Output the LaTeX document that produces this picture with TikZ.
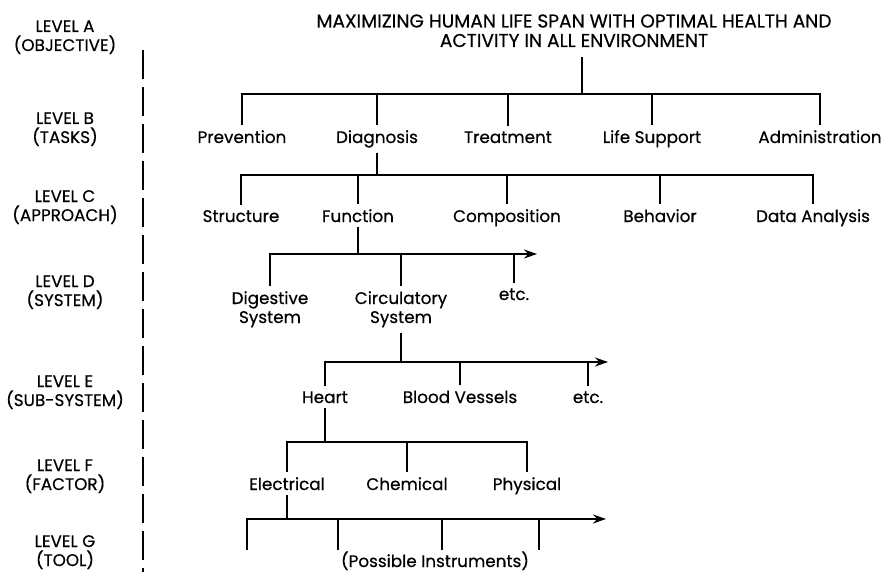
\documentclass[tikz,border=0pt]{standalone}
\usepackage{fontspec}
\setmainfont{Poppins}[FakeBold=0.4]
\usetikzlibrary{arrows.meta}

\begin{document}
\begin{tikzpicture}[x=1pt,y=-1pt,font=\fontsize{16.8}{19}\selectfont,
  >={Stealth[length=13pt,width=9pt]},
  item/.style={anchor=base,inner sep=5pt,align=center},
  lvl/.style={anchor=base,align=center},
  link/.style={line width=1.6pt},
  runout/.style={link,->}]
  \useasboundingbox (0,0) rectangle (885,572);
  % 分隔虚线
  \draw[link,dash pattern=on 29pt off 8pt] (143,50) -- (143,572);
  % 层级（base 为末行基线）
  \node[lvl] (lvA) at (65,51) {LEVEL A\\(OBJECTIVE)};
  \node[lvl] (lvB) at (65,143) {LEVEL B\\(TASKS)};
  \node[lvl] (lvC) at (65,221) {LEVEL C\\(APPROACH)};
  \node[lvl] (lvD) at (65,306) {LEVEL D\\(SYSTEM)};
  \node[lvl] (lvE) at (65,406) {LEVEL E\\(SUB-SYSTEM)};
  \node[lvl] (lvF) at (65,490) {LEVEL F\\(FACTOR)};
  \node[lvl] (lvG) at (65,566) {LEVEL G\\(TOOL)};
  % 目标
  \node[item,font=\fontsize{18.6}{19.5}\selectfont] (goal) at (574,47)
    {MAXIMIZING HUMAN LIFE SPAN WITH OPTIMAL HEALTH AND\\ACTIVITY IN ALL ENVIRONMENT};
  % B 任务
  \node[item] (prev) at (242,143) {Prevention};
  \node[item] (diag) at (377,143) {Diagnosis};
  \node[item] (treat) at (508,143) {Treatment};
  \node[item] (life) at (652,143) {Life Support};
  \node[item] (admin) at (820,143) {Administration};
  \draw[link] ([xshift=8pt,yshift=-5pt]goal.south) -- ([xshift=8pt]goal.south |- 0,94) coordinate (barB);
  \draw[link] (prev.north) |- (admin.north |- barB) -- (admin.north);
  \foreach \n in {diag,treat,life}
    \draw[link] (\n.north) -- (\n.north |- barB);
  % C 方法
  \node[item] (struct) at (241,222) {Structure};
  \node[item] (func) at (358,222) {Function};
  \node[item] (comp) at (507,222) {Composition};
  \node[item] (behav) at (660,222) {Behavior};
  \node[item] (data) at (813,222) {Data Analysis};
  \draw[link] (diag.south) -- (diag.south |- 0,175) coordinate (barC);
  \draw[link] (struct.north) |- (data.north |- barC) -- (data.north);
  \foreach \n in {func,comp,behav}
    \draw[link] (\n.north) -- (\n.north |- barC);
  % D 系统
  \node[item] (dig) at (270,323) {Digestive\\System};
  \node[item] (circ) at (401,323) {Circulatory\\System};
  \node[item] (etcD) at (514,300) {etc.};
  \coordinate (tipD) at (537,254);
  \draw[link] (func.south) -- (func.south |- tipD);
  \draw[runout] (dig.north) |- (tipD);
  \foreach \n in {circ,etcD}
    \draw[link] (\n.north) -- (\n.north |- tipD);
  % E 子系统
  \node[item] (heart) at (325,403) {Heart};
  \node[item] (vessel) at (460,403) {Blood Vessels};
  \node[item] (etcE) at (588,403) {etc.};
  \coordinate (tipE) at (608,362);
  \draw[link] (circ.south) -- (circ.south |- tipE);
  \draw[runout] (heart.north) |- (tipE);
  \foreach \n in {vessel,etcE}
    \draw[link] (\n.north) -- (\n.north |- tipE);
  % F 因素
  \node[item] (elec) at (287,490) {Electrical};
  \node[item] (chem) at (407,490) {Chemical};
  \node[item] (phys) at (527,490) {Physical};
  \draw[link] (heart.south) -- (heart.south |- 0,442) coordinate (barF);
  \draw[link] (elec.north) |- (phys.north |- barF) -- (phys.north);
  \draw[link] (chem.north) -- (chem.north |- barF);
  % G 工具
  \node[item] (tools) at (435,567) {(Possible Instruments)};
  \coordinate (tipG) at (606,519);
  \foreach \x [count=\i] in {247,338,442,539}
    \coordinate (g\i) at (\x,550);
  \draw[link] (elec.south) -- (elec.south |- tipG);
  \draw[runout] (g1) |- (tipG);
  \foreach \i in {2,3,4}
    \draw[link] (g\i) -- (g\i |- tipG);
\end{tikzpicture}
\end{document}
